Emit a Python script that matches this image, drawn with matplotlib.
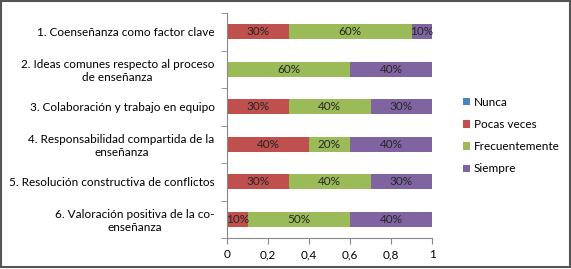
import matplotlib
matplotlib.use('Agg')
import matplotlib.pyplot as plt
import numpy as np

plt.rcParams['font.family'] = ['Lato', 'DejaVu Sans']

categories = ['1. Coenseñanza como factor clave',
              '2. Ideas comunes respecto al proceso\nde enseñanza',
              '3. Colaboración y trabajo en equipo',
              '4. Responsabilidad compartida de la\nenseñanza',
              '5. Resolución constructiva de conflictos',
              '6. Valoración positiva de la co-\nenseñanza']
series = ['Nunca', 'Pocas veces', 'Frecuentemente', 'Siempre']
nunca = [0, 0, 0, 0, 0, 0]
pocas = [0.3, 0, 0.3, 0.4, 0.3, 0.1]
frecuente = [0.6, 0.6, 0.4, 0.2, 0.4, 0.5]
siempre = [0.1, 0.4, 0.3, 0.4, 0.3, 0.4]
xticks = [0, 0.2, 0.4, 0.6, 0.8, 1]
xlabels = ['0', '0,2', '0,4', '0,6', '0,8', '1']

colors = ['#4F81BD', '#C0504D', '#9BBB59', '#8064A2']

fig = plt.figure(figsize=(5.71, 2.69), dpi=100)
ax = fig.add_axes([227/571, 1-238/269, 205/571, 225/269])

y = np.arange(len(categories))
left = np.zeros(len(categories))
for name, vals, c in zip(series, [nunca, pocas, frecuente, siempre], colors):
    vals = np.array(vals)
    ax.barh(y, vals, left=left, height=0.4, color=c, label=name)
    for yi, v, l in zip(y, vals, left):
        if v > 0:
            ax.text(l + v/2, yi, f'{v:.0%}', ha='center', va='center',
                    fontsize=8.5, color='#262626')
    left += vals

ax.set_ylim(5.5, -0.5)
ax.set_xlim(0, 1)
ax.set_xticks(xticks)
ax.set_xticklabels(xlabels, fontsize=8.5)
ax.set_yticks(y)
ax.set_yticklabels(categories, fontsize=8.5, multialignment='center')
ax.tick_params(axis='y', length=0, pad=9)
ax.set_yticks(np.arange(-0.5, 6, 1), minor=True)
ax.tick_params(axis='y', which='minor', length=4, color='#888888')
ax.tick_params(axis='x', length=4, color='#888888', pad=4)
for s in ['top', 'right']:
    ax.spines[s].set_visible(False)
for s in ['left', 'bottom']:
    ax.spines[s].set_color('#888888')

ax.legend(loc='center left', bbox_to_anchor=(1.1, 0.455), frameon=False,
          fontsize=8.5, handlelength=0.6, handleheight=0.6, handletextpad=0.3,
          labelspacing=0.95)

fig.patches.append(plt.Rectangle((0.002, 0.006), 0.996, 0.99, transform=fig.transFigure,
                                 fill=False, edgecolor='#555555', linewidth=1.5))
fig.savefig('out.png', dpi=100)
